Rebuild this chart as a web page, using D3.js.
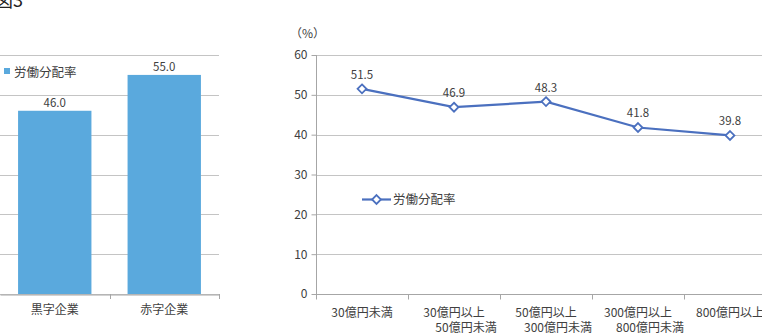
<!DOCTYPE html>
<html>
<head>
<meta charset="utf-8">
<script src="https://cdn.jsdelivr.net/npm/d3@7"></script>
<style>
  body { margin: 0; background: #fff; }
  svg text { font-family: "Noto Sans CJK JP", "Noto Sans", sans-serif; fill: #404040; }
</style>
</head>
<body>
<script>
// left chart: 黒字 / 赤字
var barCats = ["黒字企業", "赤字企業"];
var barValues = [46.0, 55.0];

// right chart: by size
var lineCats = [["30億円未満"], ["30億円以上", "50億円未満"], ["50億円以上", "300億円未満"], ["300億円以上", "800億円未満"], ["800億円以上"]];
var lineValues = [51.5, 46.9, 48.3, 41.8, 39.8];
var yTicks = [0, 10, 20, 30, 40, 50, 60];
var seriesName = "労働分配率";

var barColour = "#5AA9DD";
var lineColour = "#4B70BF";
var gridColour = "#C4C4C4";

var svg = d3.select("body").append("svg")
    .attr("width", 762)
    .attr("height", 335);

// cut off title at the top
svg.append("text")
    .attr("x", -5).attr("y", 7)
    .style("font-size", "18px")
    .style("fill", "#222")
    .text("図3");

var plotTop = 55, plotBottom = 294;

var y = d3.scaleLinear().domain([0, 60]).range([plotBottom, plotTop]);

// ---- left chart
var left = d3.scaleBand().domain(barCats).range([0, 219]).paddingInner(0.33).paddingOuter(0.165);

var g1 = svg.append("g");
g1.selectAll(".grid")
    .data(yTicks)
    .join("line")
    .attr("x1", 0).attr("x2", 219)
    .attr("y1", d => Math.round(y(d)) + 0.5).attr("y2", d => Math.round(y(d)) + 0.5)
    .attr("stroke", gridColour);

g1.selectAll("rect")
    .data(barValues)
    .join("rect")
    .attr("x", (d, i) => left(barCats[i]))
    .attr("y", d => y(d))
    .attr("width", left.bandwidth())
    .attr("height", d => plotBottom - y(d))
    .attr("fill", barColour);

g1.selectAll(".blab")
    .data(barValues)
    .join("text")
    .attr("x", (d, i) => left(barCats[i]) + left.bandwidth() / 2)
    .attr("y", d => y(d) - 4)
    .attr("text-anchor", "middle")
    .style("font-size", "11.5px")
    .text(d => d.toFixed(1));

var xa1 = g1.append("g")
    .attr("transform", "translate(0," + (Math.round(plotBottom) + 0.5) + ")")
    .call(d3.axisBottom(left).tickSize(0).tickPadding(11));
xa1.select(".domain").attr("stroke", "#A6A6A6");
xa1.selectAll("text").style("font-size", "12px").style("fill", "#404040");
g1.selectAll(".btick")
    .data([109.5, 219])
    .join("line")
    .attr("x1", d => Math.round(d) + 0.5).attr("x2", d => Math.round(d) + 0.5)
    .attr("y1", plotBottom).attr("y2", plotBottom + 5)
    .attr("stroke", "#A6A6A6");

g1.append("rect").attr("x", 4).attr("y", 68).attr("width", 6).attr("height", 6).attr("fill", barColour);
g1.append("text").attr("x", 14).attr("y", 76.5).style("font-size", "12.5px").text(seriesName);

// ---- right chart
var x0 = 316;
var xr = d3.scaleBand().domain(d3.range(lineCats.length)).range([x0, x0 + 92 * 5]);

var g2 = svg.append("g");
g2.selectAll(".grid")
    .data(yTicks)
    .join("line")
    .attr("x1", x0).attr("x2", 762)
    .attr("y1", d => Math.round(y(d)) + 0.5).attr("y2", d => Math.round(y(d)) + 0.5)
    .attr("stroke", gridColour);

var ya = g2.append("g")
    .attr("transform", "translate(" + (x0 + 0.5) + ",0)")
    .call(d3.axisLeft(y).tickValues(yTicks).tickSize(5).tickPadding(4).tickFormat(d3.format("d")));
ya.select(".domain").attr("stroke", "#A6A6A6").attr("d", "M0," + plotTop + "V" + plotBottom);
ya.selectAll(".tick line").attr("stroke", "#A6A6A6");
ya.selectAll("text").style("font-size", "12px").style("fill", "#404040");

g2.append("text").attr("x", 290).attr("y", 38).style("font-size", "12px").text("（%）");

var xa2 = g2.append("g").attr("transform", "translate(0," + (Math.round(plotBottom) + 0.5) + ")");
xa2.append("line").attr("x1", x0).attr("x2", 762).attr("stroke", "#A6A6A6");
xa2.selectAll(".xt")
    .data(d3.range(lineCats.length + 1))
    .join("line")
    .attr("x1", d => x0 + 92 * d + 0.5).attr("x2", d => x0 + 92 * d + 0.5)
    .attr("y1", 0).attr("y2", 5)
    .attr("stroke", "#A6A6A6");
xa2.selectAll(".xl")
    .data(lineCats)
    .join("text")
    .attr("text-anchor", "middle")
    .style("font-size", "12px")
    .each(function (d, i) {
        var t = d3.select(this);
        d.forEach(function (s, j) {
            t.append("tspan")
                .attr("x", xr(i) + xr.bandwidth() / 2 + (j ? 12 : 0))
                .attr("y", 22 + j * 15)
                .text(s);
        });
    });

var line = d3.line()
    .x((d, i) => xr(i) + xr.bandwidth() / 2)
    .y(d => y(d));

g2.append("path")
    .datum(lineValues)
    .attr("d", line)
    .attr("fill", "none")
    .attr("stroke", lineColour)
    .attr("stroke-width", 2.2);

var diamond = d3.symbol().type(d3.symbolDiamond2).size(50);
g2.selectAll(".pt")
    .data(lineValues)
    .join("path")
    .attr("d", diamond)
    .attr("transform", (d, i) => "translate(" + (xr(i) + xr.bandwidth() / 2) + "," + y(d) + ")")
    .attr("fill", "#fff")
    .attr("stroke", lineColour)
    .attr("stroke-width", 1.8);

g2.selectAll(".plab")
    .data(lineValues)
    .join("text")
    .attr("x", (d, i) => xr(i) + xr.bandwidth() / 2)
    .attr("y", d => y(d) - 10)
    .attr("text-anchor", "middle")
    .style("font-size", "11.5px")
    .text(d => d.toFixed(1));

// legend
g2.append("line").attr("x1", 362).attr("x2", 391).attr("y1", 199.5).attr("y2", 199.5)
    .attr("stroke", lineColour).attr("stroke-width", 2.2);
g2.append("path").attr("d", diamond).attr("transform", "translate(376.5,199.5)")
    .attr("fill", "#fff").attr("stroke", lineColour).attr("stroke-width", 1.8);
g2.append("text").attr("x", 393).attr("y", 204).style("font-size", "12.5px").text(seriesName);
</script>
</body>
</html>
